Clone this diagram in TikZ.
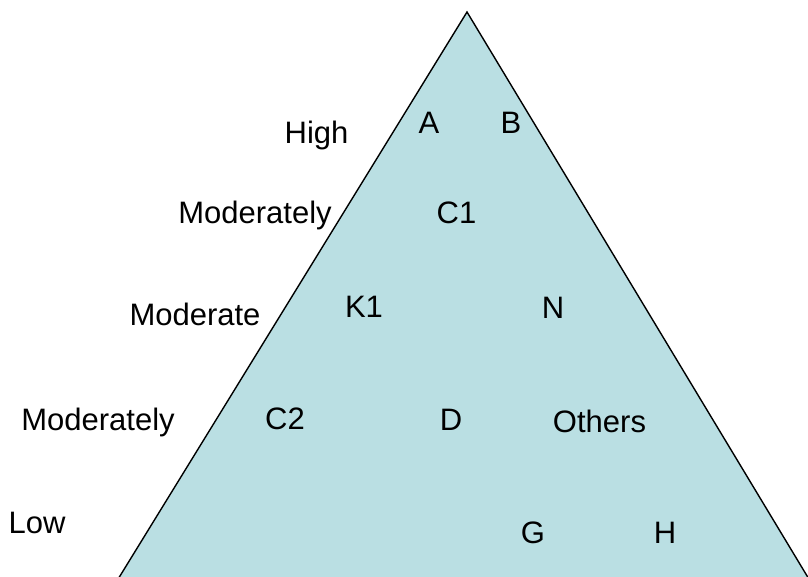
\documentclass[tikz,border=0pt]{standalone}
\usepackage{fontspec}
\setmainfont{Liberation Sans}
\definecolor{tri}{RGB}{186,223,227}
\begin{document}
\begin{tikzpicture}[x=1pt,y=-1pt,
  lbl/.style={anchor=base,inner sep=0pt,font=\fontsize{31}{36}\selectfont}]
\useasboundingbox (0,0) rectangle (808,576);
\coordinate (apex) at (467,12);
\coordinate (bl) at (117.5,580);
\coordinate (br) at (809.5,580);
\begin{scope}
\clip (0,0) rectangle (808,576);
\filldraw[fill=tri,draw=black,line width=1.4pt,line join=miter] (bl) -- (apex) -- (br) -- cycle;
\end{scope}
\node[lbl] (high) at (316.5,143) {High};
\node[lbl] (modly1) at (255,223) {Moderately};
\node[lbl] (mod) at (195,325) {Moderate};
\node[lbl] (modly2) at (98,430) {Moderately};
\node[lbl] (low) at (37,533) {Low};
\node[lbl] (a) at (429,133) {A};
\node[lbl] (b) at (511,133) {B};
\node[lbl] (c1) at (456.5,223) {C1};
\node[lbl] (k1) at (364,317) {K1};
\node[lbl] (n) at (553,318) {N};
\node[lbl] (c2) at (285,429) {C2};
\node[lbl] (d) at (451,430) {D};
\node[lbl] (others) at (599.5,432) {Others};
\node[lbl] (g) at (533,543) {G};
\node[lbl] (h) at (665,543) {H};
\end{tikzpicture}
\end{document}
